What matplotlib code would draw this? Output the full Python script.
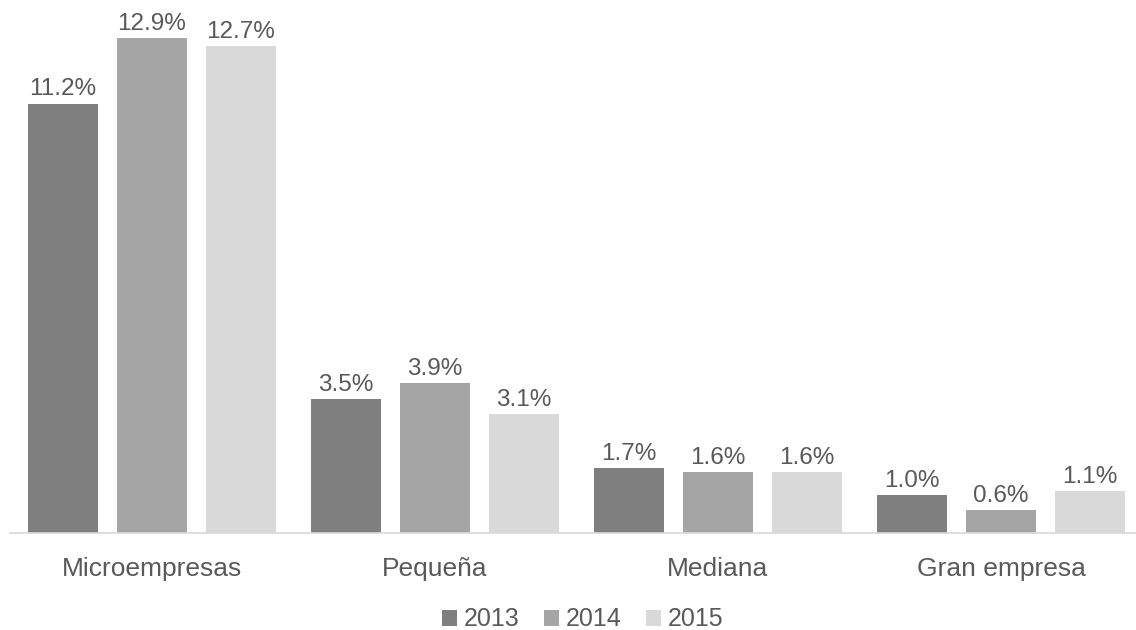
import matplotlib
matplotlib.use("Agg")
import matplotlib.pyplot as plt
import numpy as np

plt.rcParams["font.family"] = ["Liberation Sans", "DejaVu Sans"]

# datos
categorias = ["Microempresas", "Pequeña", "Mediana", "Gran empresa"]
anios = ["2013", "2014", "2015"]
v2013 = [11.2, 3.5, 1.7, 1.0]
v2014 = [12.9, 3.9, 1.6, 0.6]
v2015 = [12.7, 3.1, 1.6, 1.1]
colores = ["#7f7f7f", "#a5a5a5", "#d9d9d9"]
texto = "#595959"

fig = plt.figure(figsize=(11.36, 6.3), dpi=100)
ax = fig.add_axes([0.0092, 0.154, 0.9965, 0.846])

x = np.arange(len(categorias))
ancho = 0.247
paso = 0.3145
series = [v2013, v2014, v2015]
for i, vals in enumerate(series):
    pos = x + (i - 1) * paso
    ax.bar(pos, vals, width=ancho, color=colores[i], label=anios[i])
    for p, v in zip(pos, vals):
        ax.text(p, v + 0.08, "%.1f%%" % v, ha="center", va="bottom",
                fontsize=17.5, color=texto)

ax.set_xlim(-0.5, 3.5)
ax.set_ylim(0, 13.9)
ax.set_yticks([])
ax.set_xticks(x)
ax.set_xticklabels(categorias, fontsize=19, color=texto)
ax.tick_params(axis="x", length=0, pad=17)
for s in ["top", "right", "left"]:
    ax.spines[s].set_visible(False)
ax.spines["bottom"].set_color("#d9d9d9")
ax.spines["bottom"].set_linewidth(1.2)

leg = fig.legend(loc="lower center", bbox_to_anchor=(0.513, -0.038), ncol=3,
                 frameon=False, fontsize=18, handlelength=0.6, handleheight=0.6,
                 handletextpad=0.25, columnspacing=1.0)
for t in leg.get_texts():
    t.set_color(texto)

fig.savefig("out.png", dpi=100)
